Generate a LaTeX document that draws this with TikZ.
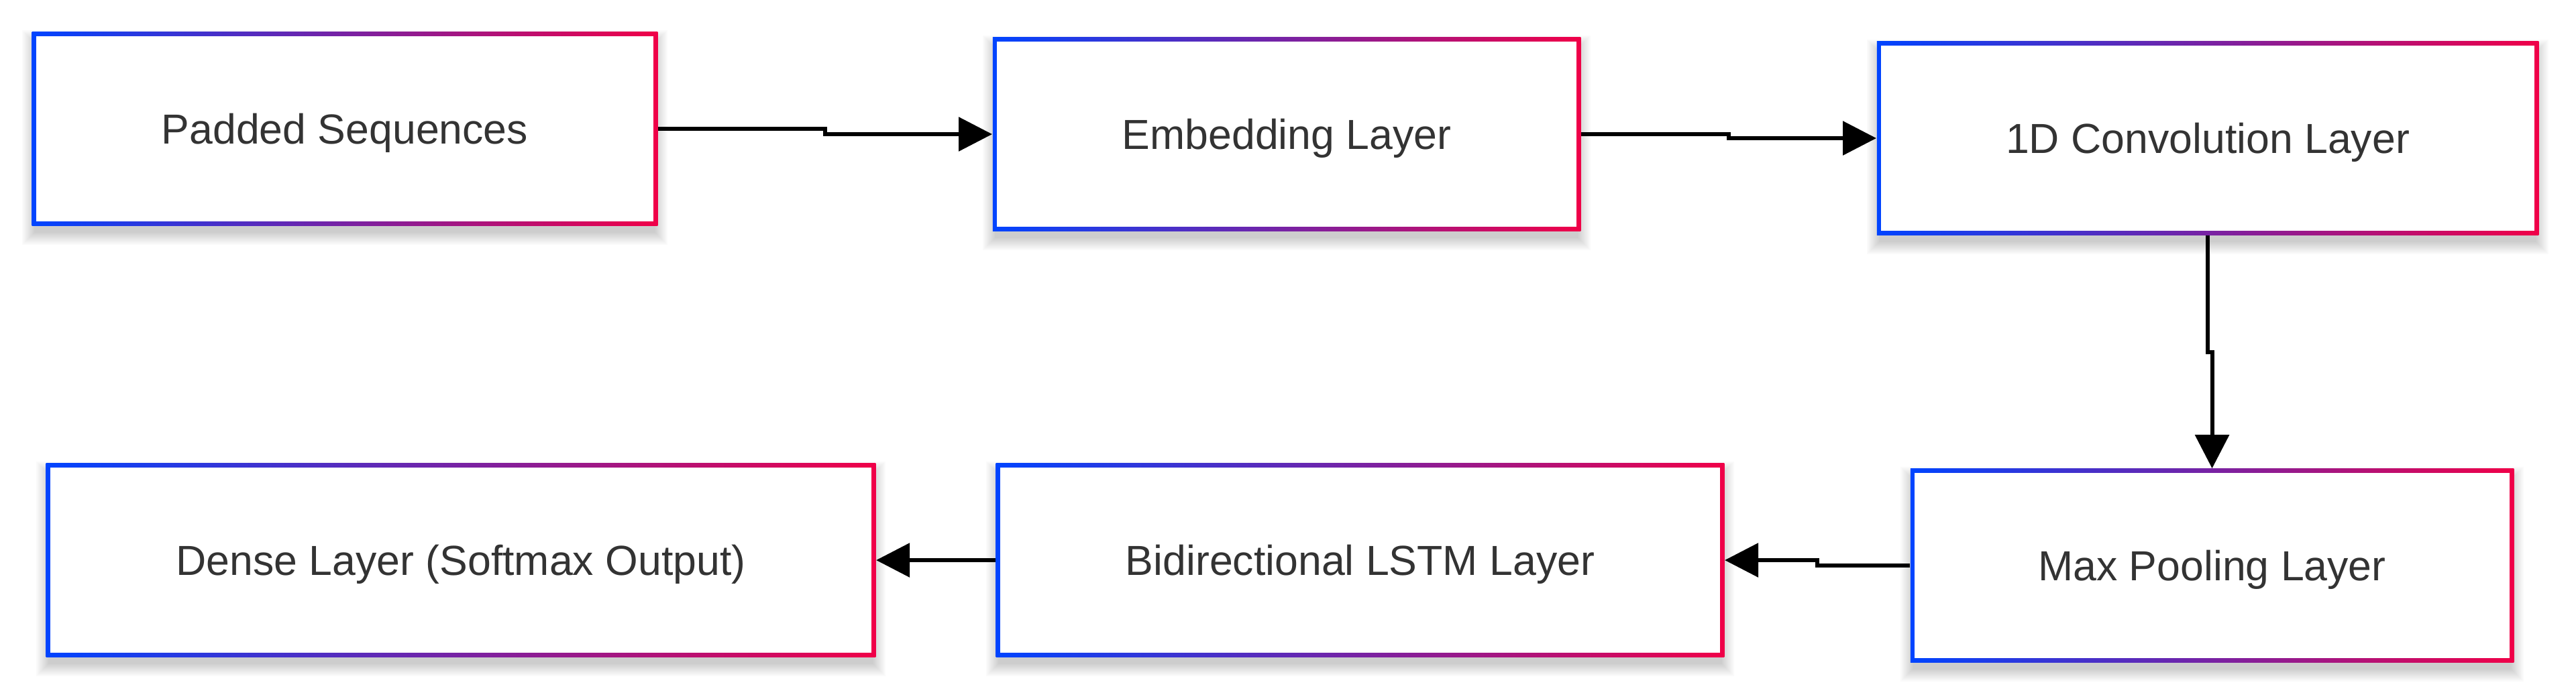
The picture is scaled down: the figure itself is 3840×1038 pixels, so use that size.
\documentclass[tikz,border=0pt]{standalone}
\usepackage{fontspec}
\setmainfont{Liberation Sans}
\usetikzlibrary{arrows.meta,calc,backgrounds}
\definecolor{gblue}{RGB}{0,68,255}
\definecolor{gred}{RGB}{240,0,72}
\definecolor{txtgray}{RGB}{51,51,51}
\tikzset{
  layerbox/.style={rectangle, minimum width=#1, minimum height=2.88cm, inner sep=0pt,
    text height=0.45cm, text depth=0cm,
    draw=none, left color=gblue, right color=gred,
    font=\fontsize{17.8}{21}\selectfont, text=txtgray,
    path picture={\fill[white] ([shift={(6,6)}]path picture bounding box.north west)
      rectangle ([shift={(-6,-6)}]path picture bounding box.south east);}},
  conn/.style={draw=black, line width=0.06cm, -{Triangle[length=0.5cm,width=0.5cm]}},
}
\begin{document}
\begin{tikzpicture}[x=0.01cm,y=-0.01cm]
\useasboundingbox (0,0) rectangle (3840,1038);

\node[layerbox=9.32cm] (a) at (514,192) {Padded Sequences};
\node[layerbox=8.76cm] (b) at (1918,200) {Embedding Layer};
\node[layerbox=9.86cm] (c) at (3291,206) {1D Convolution Layer};
\node[layerbox=8.99cm] (d) at (3297.5,843) {Max Pooling Layer};
\node[layerbox=10.85cm] (e) at (2027.5,835) {Bidirectional LSTM Layer};
\node[layerbox=12.36cm] (f) at (687,835) {Dense Layer (Softmax Output)};

\begin{scope}[on background layer]
  \fill[white] (0,0) rectangle (3840,1038);
  \foreach \n in {a,b,c,d,e,f}{
    \foreach \k in {1,...,10}{
      \fill[black,opacity=0.018] ([shift={(-2*\k+6,-2*\k+18)}]\n.north west)
        rectangle ([shift={(2*\k-6,2*\k+8)}]\n.south east);
    }
  }
\end{scope}

\draw[conn] (a.east) -| ($(a.east)!0.5!(b.west)$) |- (b.west);
\draw[conn] (b.east) -| ($(b.east)!0.5!(c.west)$) |- (c.west);
\draw[conn] (c.south) |- ($(c.south)!0.5!(d.north)$) -| (d.north);
\draw[conn] (d.west) -| ($(d.west)!0.5!(e.east)$) |- (e.east);
\draw[conn] (e.west) -- (f.east);
\end{tikzpicture}
\end{document}
